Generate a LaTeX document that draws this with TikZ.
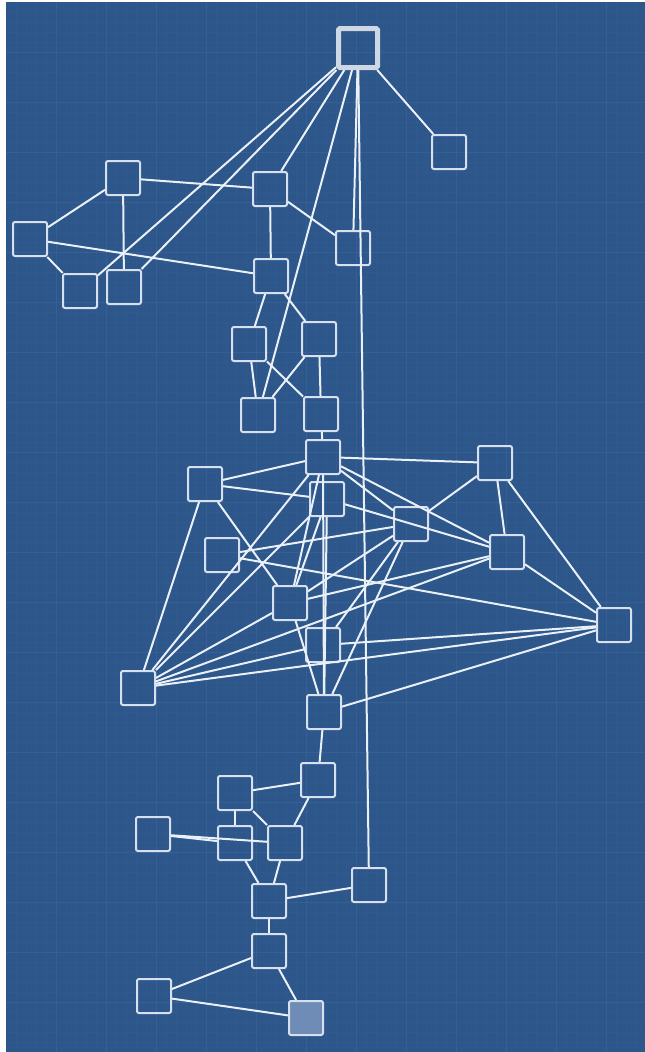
\documentclass[tikz,border=0pt]{standalone}
\definecolor{bgblue}{RGB}{45,86,138}
\definecolor{gridminor}{RGB}{48,89,141}
\definecolor{gridmajor}{RGB}{54,95,147}
\definecolor{edgec}{RGB}{234,240,248}
\definecolor{nodec}{RGB}{214,224,238}
\definecolor{rootc}{RGB}{206,215,228}
\definecolor{fillc}{RGB}{110,140,182}
\begin{document}
\begin{tikzpicture}[x=1pt,y=-1pt,
  box/.style={rectangle, draw=nodec, line width=2pt, rounded corners=2pt, minimum size=34pt, inner sep=0pt},
  rootbox/.style={rectangle, draw=rootc, line width=5pt, rounded corners=1.5pt, minimum size=39pt, inner sep=0pt},
  filledbox/.style={box, fill=fillc},
  link/.style={draw=edgec, line width=2pt}]
\useasboundingbox (0,0) rectangle (645,1052);
\fill[white] (0,0) rectangle (645,1052);
\fill[bgblue] (6,2) rectangle (645,1052);
\foreach \gx in {16,26,...,645} \draw[gridminor, line width=0.5pt] (\gx,2) -- (\gx,1052);
\foreach \gy in {12,22,...,1052} \draw[gridminor, line width=0.5pt] (6,\gy) -- (645,\gy);
\foreach \gx in {56,106,...,645} \draw[gridmajor, line width=0.7pt] (\gx,2) -- (\gx,1052);
\foreach \gy in {52,102,...,1052} \draw[gridmajor, line width=0.7pt] (6,\gy) -- (645,\gy);

\node[rootbox] (R) at (358,48) {};
\node[box] (N1) at (449,152) {};
\node[box] (A) at (123,178) {};
\node[box] (B) at (270,189) {};
\node[box] (C) at (30,239) {};
\node[box] (D) at (80,291) {};
\node[box] (E) at (124,287) {};
\node[box] (F) at (353,248) {};
\node[box] (G) at (271,276) {};
\node[box] (H) at (249,344) {};
\node[box] (I) at (319,339) {};
\node[box] (J) at (258,415) {};
\node[box] (K) at (321,414) {};
\node[box] (L) at (323,457) {};
\node[box] (Q) at (205,484) {};
\node[box] (M1) at (327,499) {};
\node[box] (R2) at (222,555) {};
\node[box] (S) at (290,603) {};
\node[box] (T) at (323,645) {};
\node[box] (U) at (138,688) {};
\node[box] (M) at (324,712) {};
\node[box] (V) at (495,463) {};
\node[box] (W) at (411,524) {};
\node[box] (X) at (507,552) {};
\node[box] (Y) at (614,625) {};
\node[box] (P1) at (318,780) {};
\node[box] (P2) at (235,793) {};
\node[box] (P3) at (153,834) {};
\node[box] (P4) at (235,843) {};
\node[box] (P5) at (285,843) {};
\node[box] (P6) at (369,885) {};
\node[box] (P7) at (269,901) {};
\node[box] (P8) at (269,951) {};
\node[box] (P9) at (154,996) {};
\node[filledbox] (P10) at (306,1018) {};

\foreach \a/\b in {R/N1, R/D, R/E, R/B, R/J, R/F, R/P6,
  A/B, A/C, A/E, C/D, C/G, B/G, B/F, G/H, G/I, H/J, H/K, I/J, I/K, K/L,
  L/Q, L/V, L/W, L/X, L/S, L/M, L/U,
  Q/M1, Q/S, Q/U,
  M1/U, M1/S, M1/X, M1/M,
  R2/W, R2/Y,
  S/W, S/X, S/M, U/S,
  T/W, T/Y, U/T,
  U/X, U/Y,
  V/W, V/X, V/Y, X/Y,
  M/W, M/Y,
  M/P1, P1/P2, P1/P5, P2/P4, P2/P5, P3/P4, P3/P5, P4/P7, P5/P7,
  P7/P6, P7/P8, P8/P9, P8/P10, P9/P10}
  \draw[link] (\a) -- (\b);
\end{tikzpicture}
\end{document}
